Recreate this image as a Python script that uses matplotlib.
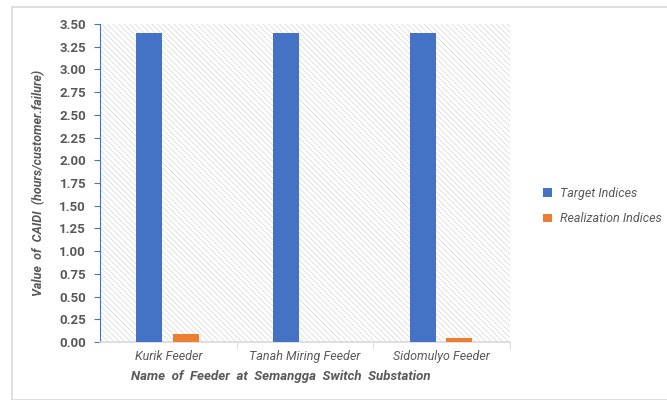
import matplotlib
matplotlib.use("Agg")
import matplotlib.pyplot as plt
import numpy as np
from matplotlib.patches import Rectangle

feeders = ["Kurik Feeder", "Tanah Miring Feeder", "Sidomulyo Feeder"]
target = [3.40, 3.40, 3.40]
realization = [0.09, 0.0, 0.04]
series_names = ["Target Indices", "Realization Indices"]

TEXT = "#595959"
BLUE = "#4472C4"
ORANGE = "#ED7D31"

plt.rcParams["font.family"] = ["Roboto", "DejaVu Sans"]
plt.rcParams["hatch.color"] = "#D6D6D6"
plt.rcParams["hatch.linewidth"] = 0.5

fig = plt.figure(figsize=(6.67, 4.0), dpi=100)
fig.patches.append(Rectangle((12 / 667, 0.0), 1.0, 1 - 7 / 400, transform=fig.transFigure,
                             fill=False, edgecolor="#D9D9D9", linewidth=1.2))
ax = fig.add_axes([100 / 667, 1 - 342 / 400, 410 / 667, (342 - 24) / 400])

# hatched plot area
ax.add_patch(Rectangle((0, 0), 1, 1, transform=ax.transAxes, facecolor="white",
                       edgecolor="#D6D6D6", hatch="\\\\\\\\\\\\", linewidth=0, zorder=0))

x = np.arange(len(feeders))
w = 0.19
ax.bar(x - 0.14, target, w, color=BLUE, label=series_names[0], zorder=3)
ax.bar(x + 0.13, realization, w, color=ORANGE, label=series_names[1], zorder=3)

ax.set_xlim(-0.5, 2.5)
ax.set_ylim(0, 3.5)
ticks = np.arange(0, 3.51, 0.25)
ax.set_yticks(ticks)
ax.set_yticklabels([f"{v:.2f}" for v in ticks], fontsize=9.5, fontweight="bold", color=TEXT)
ax.set_xticks(x)
ax.set_xticklabels(feeders, fontsize=9, style="italic", color=TEXT)
ax.set_xticks([0.5, 1.5, 2.5], minor=True)
ax.tick_params(axis="x", which="major", length=0, pad=6)
ax.tick_params(axis="x", which="minor", length=5, color="#D9D9D9")
ax.tick_params(axis="y", length=4, color=BLUE, direction="out", pad=6)

for s in ["top", "right"]:
    ax.spines[s].set_visible(False)
ax.spines["left"].set_color(BLUE)
ax.spines["bottom"].set_color("#D9D9D9")
ax.spines["bottom"].set_linewidth(1.2)

ax.set_ylabel("Value  of  CAIDI  (hours/customer.failure)", fontsize=9, style="italic",
              fontweight="bold", color=TEXT, labelpad=10)
ax.set_xlabel("Name  of  Feeder  at  Semangga  Switch  Substation", fontsize=9.5,
              style="italic", fontweight="bold", color=TEXT)
ax.xaxis.set_label_coords(0.44, -0.088)

leg = fig.legend(loc="center left", bbox_to_anchor=(532 / 667, 1 - 206 / 400), frameon=False,
                 prop={"size": 9, "style": "italic"}, handlelength=0.7, handleheight=0.7,
                 labelspacing=1.0, handletextpad=0.6)
for t in leg.get_texts():
    t.set_color(TEXT)

fig.savefig("out.png", dpi=100)
